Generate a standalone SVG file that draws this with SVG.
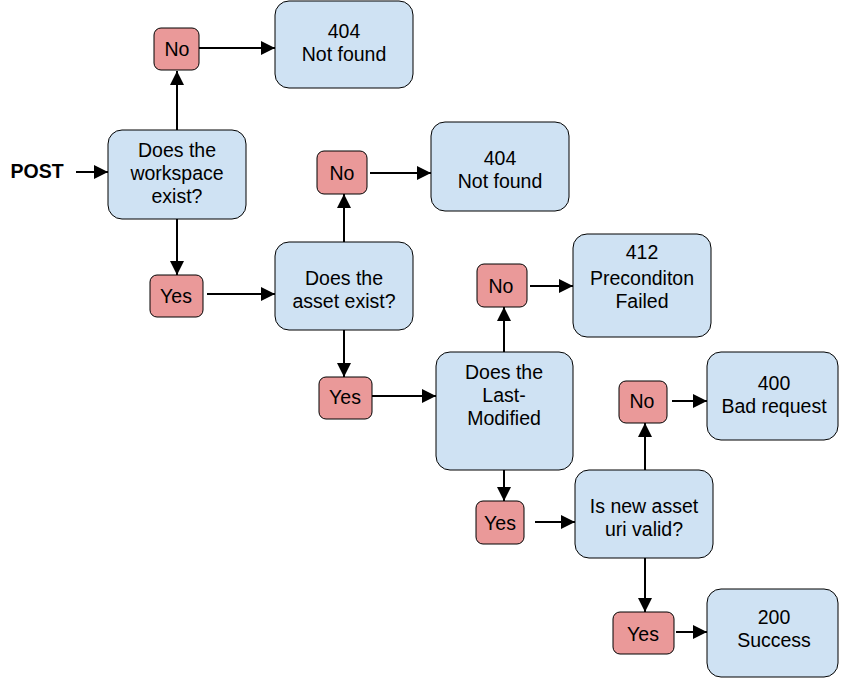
<svg xmlns="http://www.w3.org/2000/svg" width="849" height="682" viewBox="0 0 849 682">
<defs>
<marker id="ah" viewBox="0 0 10 10" refX="10" refY="5" markerWidth="7" markerHeight="7" markerUnits="strokeWidth" orient="auto">
<path d="M0,0 L10,5 L0,10 z" fill="#000"/>
</marker>
</defs>
<style>
.b{fill:#cfe2f3;stroke:#000;stroke-width:1}
.r{fill:#ea9999;stroke:#000;stroke-width:1}
text{font-family:"Liberation Sans",Arial,sans-serif;font-size:19.5px;fill:#000;text-anchor:middle}
.c line{stroke:#000;stroke-width:2;marker-end:url(#ah)}
</style>
<rect width="849" height="682" fill="#fff"/>
<g class="c" id="connectors">
<line x1="76" y1="172" x2="108" y2="172"/>
<line x1="177" y1="130" x2="177" y2="71"/>
<line x1="199" y1="48" x2="275" y2="48"/>
<line x1="177" y1="219" x2="177" y2="275"/>
<line x1="207" y1="294" x2="275" y2="294"/>
<line x1="344" y1="242" x2="344" y2="194"/>
<line x1="370" y1="173" x2="431" y2="173"/>
<line x1="344" y1="330" x2="344" y2="377"/>
<line x1="372" y1="396" x2="436" y2="396"/>
<line x1="504" y1="352" x2="504" y2="307"/>
<line x1="530" y1="286" x2="573" y2="286"/>
<line x1="504" y1="470" x2="504" y2="501"/>
<line x1="535" y1="522" x2="575" y2="522"/>
<line x1="645" y1="470" x2="645" y2="423"/>
<line x1="672" y1="401" x2="707" y2="401"/>
<line x1="645" y1="558" x2="645" y2="612"/>
<line x1="676" y1="632" x2="707" y2="632"/>
</g>
<g id="post"><text x="37" y="178" style="font-weight:bold">POST</text></g>
<g id="q1"><rect class="b" x="108" y="130" width="138" height="89" rx="14"/><text x="177" y="157">Does the</text><text x="177" y="180">workspace</text><text x="177" y="203">exist?</text></g>
<g id="no1"><rect class="r" x="154" y="28" width="45" height="42" rx="7"/><text x="177" y="56">No</text></g>
<g id="nf1"><rect class="b" x="275" y="1" width="138" height="87" rx="14"/><text x="344" y="38">404</text><text x="344" y="61">Not found</text></g>
<g id="yes1"><rect class="r" x="150" y="275" width="53" height="42" rx="7"/><text x="176" y="303">Yes</text></g>
<g id="q2"><rect class="b" x="275" y="242" width="138" height="88" rx="14"/><text x="344" y="285">Does the</text><text x="344" y="308">asset exist?</text></g>
<g id="no2"><rect class="r" x="317" y="151" width="50" height="43" rx="7"/><text x="342" y="180">No</text></g>
<g id="nf2"><rect class="b" x="431" y="122" width="138" height="89" rx="14"/><text x="500" y="165">404</text><text x="500" y="188">Not found</text></g>
<g id="yes2"><rect class="r" x="319" y="377" width="53" height="42" rx="7"/><text x="345" y="404">Yes</text></g>
<g id="q3"><rect class="b" x="436" y="352" width="137" height="118" rx="14"/><text x="504" y="379">Does the</text><text x="504" y="402">Last-</text><text x="504" y="425">Modified</text></g>
<g id="no3"><rect class="r" x="477" y="264" width="50" height="43" rx="7"/><text x="501" y="293">No</text></g>
<g id="pf"><rect class="b" x="573" y="234" width="138" height="103" rx="14"/><text x="642" y="259">412</text><text x="642" y="285">Preconditon</text><text x="642" y="308">Failed</text></g>
<g id="yes3"><rect class="r" x="476" y="501" width="48" height="43" rx="7"/><text x="500" y="530">Yes</text></g>
<g id="q4"><rect class="b" x="575" y="470" width="138" height="88" rx="14"/><text x="644" y="513">Is new asset</text><text x="644" y="536">uri valid?</text></g>
<g id="no4"><rect class="r" x="619" y="381" width="48" height="42" rx="7"/><text x="642" y="408">No</text></g>
<g id="br"><rect class="b" x="707" y="352" width="131" height="88" rx="14"/><text x="774" y="390">400</text><text x="774" y="413">Bad request</text></g>
<g id="yes4"><rect class="r" x="613" y="612" width="61" height="42" rx="7"/><text x="643" y="641">Yes</text></g>
<g id="ok"><rect class="b" x="707" y="589" width="131" height="88" rx="14"/><text x="774" y="624">200</text><text x="774" y="647">Success</text></g>
</svg>
